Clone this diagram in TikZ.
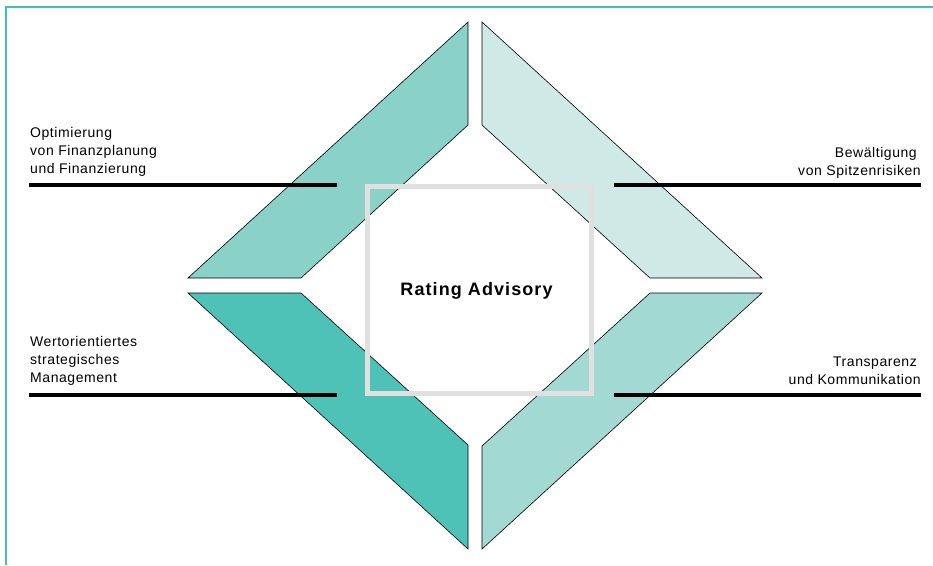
\documentclass[tikz,border=0pt]{standalone}
\usepackage{fontspec}
\setmainfont{Liberation Sans}
\definecolor{frameteal}{HTML}{45BFB2}
\definecolor{cTL}{HTML}{8AD1C7}
\definecolor{cTR}{HTML}{CFEAE6}
\definecolor{cBL}{HTML}{4FC2B7}
\definecolor{cBR}{HTML}{A2D9D2}
\definecolor{boxgray}{HTML}{E0E0E0}
\begin{document}
\begin{tikzpicture}[x=1pt,y=-1pt,
  band/.style={draw=black,line width=0.6pt,line join=miter},
  rule/.style={draw=black,line width=3.1pt},
  lbl/.style={inner sep=0pt,font=\fontsize{14}{18}\selectfont\addfontfeature{LetterSpace=4}},
  title/.style={inner sep=0pt,font=\fontsize{18}{22}\selectfont\bfseries\addfontfeature{LetterSpace=6}}]
\useasboundingbox (0,0) rectangle (933,565);
% frame
\draw[frameteal,line width=1.7pt] (5.8,565) -- (5.8,6.8) -- (933,6.8);
% bands
\fill[cTL] (188,278) -- (468,22) -- (468,125) -- (301,278) -- cycle;
\draw[band] (188,278) -- (468,22) -- (468,125) -- (301,278) -- cycle;
\fill[cTR] (482,22) -- (762,278) -- (650,278) -- (482,125) -- cycle;
\draw[band] (482,22) -- (762,278) -- (650,278) -- (482,125) -- cycle;
\fill[cBL] (188,293) -- (301,293) -- (468,445) -- (468,549) -- cycle;
\draw[band] (188,293) -- (301,293) -- (468,445) -- (468,549) -- cycle;
\fill[cBR] (650,293) -- (762,293) -- (482,549) -- (482,446) -- cycle;
\draw[band] (650,293) -- (762,293) -- (482,549) -- (482,446) -- cycle;
% rules
\coordinate (tl1) at (29,185); \coordinate (tl2) at (337,185);
\coordinate (tr1) at (614,185); \coordinate (tr2) at (921,185);
\coordinate (bl1) at (29,395); \coordinate (bl2) at (337,395);
\coordinate (br1) at (614,395); \coordinate (br2) at (921,395);
\draw[rule] (tl1) -- (tl2);
\draw[rule] (tr1) -- (tr2);
\draw[rule] (bl1) -- (bl2);
\draw[rule] (br1) -- (br2);
% center box
\node[draw=boxgray,line width=5pt,minimum width=224pt,minimum height=207pt,inner sep=0pt] (box) at (479,289.5) {};
\node[title] (rating) at (476.5,290.5) {Rating Advisory};
% labels
\node[lbl,anchor=north west,align=left] (lTL) at (30,127.5) {Optimierung\\von Finanzplanung\\und Finanzierung};
\node[lbl,anchor=north east,align=right] (lTR) at (921,147.5) {Bewältigung\kern4pt\\von Spitzenrisiken};
\node[lbl,anchor=north west,align=left] (lBL) at (30,336.5) {Wertorientiertes\\strategisches\\Management};
\node[lbl,anchor=north east,align=right] (lBR) at (921,356.5) {Transparenz\kern4pt\\und Kommunikation};
\end{tikzpicture}
\end{document}
